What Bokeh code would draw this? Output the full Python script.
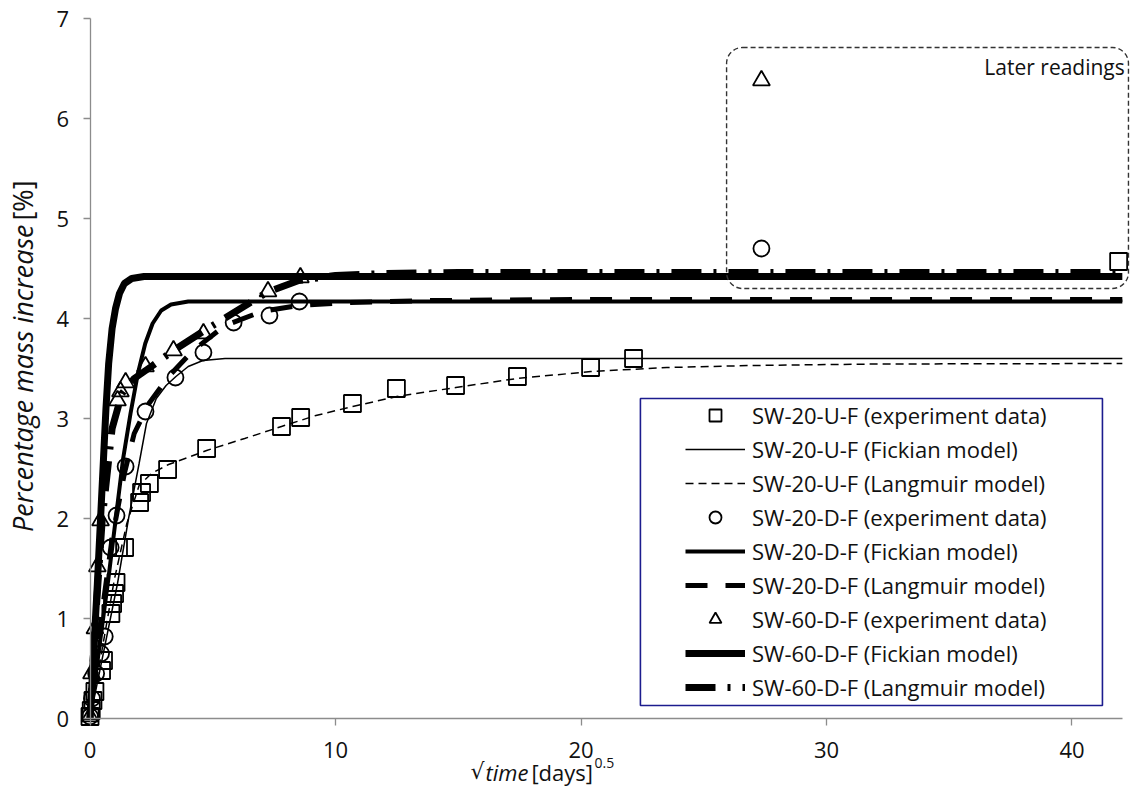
from math import pi
from bokeh.plotting import figure
from bokeh.models import Legend, LegendItem, Label, BoxAnnotation, Range1d, FixedTicker
from bokeh.embed import file_html
from bokeh.resources import INLINE

# ---------------- data ----------------
x_ticks = [0, 10, 20, 30, 40]
y_ticks = [0, 1, 2, 3, 4, 5, 6, 7]

# SW-20-U-F experiment data (squares)
u_exp_x = [0.0, 0.05, 0.12, 0.2, 0.47, 0.55, 0.85, 0.92, 1.0, 1.06, 1.16, 1.41, 2.02, 2.10, 2.42,
           3.16, 4.75, 7.80, 8.58, 10.69, 12.48, 14.89, 17.41, 20.39, 22.14, 41.9]
u_exp_y = [0.02, 0.08, 0.18, 0.27, 0.48, 0.58, 1.05, 1.15, 1.25, 1.36, 1.71, 1.71, 2.16, 2.26, 2.35,
           2.49, 2.70, 2.92, 3.01, 3.15, 3.30, 3.33, 3.42, 3.51, 3.60, 4.57]
# SW-20-U-F Fickian model
u_fick_x = [0, 0.5, 1.12, 1.57, 2.0, 2.3, 2.7, 3.1, 3.5, 4.0, 4.6, 5.5, 42.05]
u_fick_y = [0, 0.6, 1.35, 2.0, 2.55, 2.95, 3.2, 3.33, 3.42, 3.52, 3.58, 3.6, 3.6]
# SW-20-U-F Langmuir model
u_lang_x = [0, 0.5, 1.0, 1.5, 2.0, 2.5, 3.2, 4.75, 6.3, 7.8, 9.2, 10.7, 12.5, 14.9, 17.4, 20.4,
            23.5, 27, 32, 42.05]
u_lang_y = [0, 0.7, 1.4, 1.95, 2.33, 2.45, 2.54, 2.68, 2.8, 2.92, 3.03, 3.12, 3.22, 3.31, 3.4, 3.47,
            3.51, 3.53, 3.545, 3.55]

# SW-20-D-F experiment data (circles)
d20_exp_x = [0.0, 0.08, 0.25, 0.45, 0.6, 0.84, 1.08, 1.45, 2.26, 3.48, 4.62, 5.85, 7.31, 8.53, 27.35]
d20_exp_y = [0.02, 0.2, 0.45, 0.65, 0.82, 1.71, 2.03, 2.52, 3.07, 3.41, 3.66, 3.96, 4.03, 4.17, 4.70]
# SW-20-D-F Fickian model
d20_fick_x = [0, 0.4, 0.75, 1.05, 1.35, 1.65, 1.95, 2.25, 2.55, 2.9, 3.3, 4.0, 42.05]
d20_fick_y = [0, 0.75, 1.4, 2.0, 2.6, 3.05, 3.45, 3.75, 3.95, 4.08, 4.14, 4.17, 4.17]
# SW-20-D-F Langmuir model
d20_lang_x = [0, 0.4, 0.9, 1.4, 1.8, 2.4, 3.2, 4.2, 5.5, 7.0, 8.5, 10.5, 14, 20, 42.05]
d20_lang_y = [0, 0.9, 1.8, 2.45, 2.85, 3.15, 3.42, 3.68, 3.93, 4.07, 4.13, 4.16, 4.18, 4.19, 4.19]

# SW-60-D-F experiment data (triangles)
d60_exp_x = [0.0, 0.06, 0.2, 0.3, 0.43, 1.12, 1.24, 1.45, 2.26, 3.40, 4.62, 7.25, 8.57, 27.35]
d60_exp_y = [0.02, 0.45, 0.9, 1.52, 1.98, 3.18, 3.27, 3.36, 3.52, 3.68, 3.85, 4.27, 4.41, 6.38]
# SW-60-D-F Fickian model
d60_fick_x = [0, 0.1, 0.3, 0.43, 0.55, 0.65, 0.76, 0.9, 1.04, 1.2, 1.4, 1.7, 2.2, 42.05]
d60_fick_y = [0, 0.45, 1.35, 2.0, 2.6, 3.1, 3.55, 3.9, 4.1, 4.25, 4.35, 4.4, 4.42, 4.42]
# SW-60-D-F Langmuir model
d60_lang_x = [0, 0.2, 0.5, 0.9, 1.3, 1.8, 2.5, 3.4, 4.6, 5.8, 7.2, 8.5, 10, 12, 15, 42.05]
d60_lang_y = [0, 0.9, 2.0, 2.9, 3.25, 3.4, 3.52, 3.68, 3.87, 4.05, 4.26, 4.38, 4.43, 4.45, 4.46, 4.46]

labels = ["SW-20-U-F (experiment data)", "SW-20-U-F (Fickian model)", "SW-20-U-F (Langmuir model)",
          "SW-20-D-F (experiment data)", "SW-20-D-F (Fickian model)", "SW-20-D-F (Langmuir model)",
          "SW-60-D-F (experiment data)", "SW-60-D-F (Fickian model)", "SW-60-D-F (Langmuir model)"]

FONT = "Open Sans"
TXT = "#111111"

# ---------------- figure ----------------
# the frame fills the canvas; axes are pinned at x=0 / y=0 with fixed_location
p = figure(width=1130, height=788, output_backend="svg", toolbar_location=None,
           x_range=Range1d(-3.646, 42.383), y_range=Range1d(-0.70, 7.18),
           min_border_left=0, min_border_right=0, min_border_top=0, min_border_bottom=0)
p.outline_line_color = None
p.grid.visible = False

for ax in (p.xaxis[0], p.yaxis[0]):
    ax.fixed_location = 0
    ax.axis_line_color = "#8c8c8c"
    ax.axis_line_width = 1.3
    ax.major_tick_line_color = "#8c8c8c"
    ax.major_tick_line_width = 1.3
    ax.major_tick_out = 7
    ax.major_tick_in = 0
    ax.minor_tick_line_color = None
    ax.major_label_text_font = FONT
    ax.major_label_text_font_size = "22px"
    ax.major_label_text_color = TXT
p.xaxis.ticker = FixedTicker(ticks=x_ticks)
p.yaxis.ticker = FixedTicker(ticks=y_ticks)
p.xaxis.bounds = (0, 42.05)
p.yaxis.bounds = (0, 7)
p.xaxis.major_label_standoff = 16
p.yaxis.major_label_standoff = 14

# model lines
r_u_fick = p.line(u_fick_x, u_fick_y, line_color="black", line_width=1.5)
r_u_lang = p.line(u_lang_x, u_lang_y, line_color="black", line_width=1.5, line_dash="8 5")
r_d20_fick = p.line(d20_fick_x, d20_fick_y, line_color="black", line_width=4)
r_d20_lang = p.line(d20_lang_x, d20_lang_y, line_color="black", line_width=5, line_dash="22 18")
r_d60_fick = p.line(d60_fick_x, d60_fick_y, line_color="black", line_width=7)
r_d60_lang = p.line(d60_lang_x, d60_lang_y, line_color="black", line_width=7, line_dash="30 12 3 12")

# experiment markers
r_u_exp = p.scatter(u_exp_x, u_exp_y, marker="square", size=17, fill_alpha=0,
                    line_color="black", line_width=1.8)
r_d20_exp = p.scatter(d20_exp_x, d20_exp_y, marker="circle", size=16, fill_alpha=0,
                      line_color="black", line_width=1.8)
r_d60_exp = p.scatter(d60_exp_x, d60_exp_y, marker="triangle", size=17, fill_alpha=0,
                      line_color="black", line_width=1.8)

# "Later readings" dashed rounded box
p.add_layout(BoxAnnotation(left=25.93, right=42.3, bottom=4.30, top=6.71,
                           fill_alpha=0, line_color="#333333", line_alpha=1, line_width=1.4,
                           line_dash="5 3", border_radius=16))
p.add_layout(Label(x=42.15, y=6.52, text="Later readings", text_align="right",
                   text_baseline="middle", text_font=FONT, text_font_size="21px",
                   text_color=TXT))

# legend frame
p.add_layout(BoxAnnotation(left=22.42, right=41.24, bottom=0.13, top=3.20,
                           fill_color="white", fill_alpha=1,
                           line_color="#1c1c8e", line_alpha=1, line_width=1.6))

renderers = [r_u_exp, r_u_fick, r_u_lang, r_d20_exp, r_d20_fick, r_d20_lang,
             r_d60_exp, r_d60_fick, r_d60_lang]
legend = Legend(items=[LegendItem(label=l, renderers=[r]) for l, r in zip(labels, renderers)],
                location=(683, 84), glyph_width=60, glyph_height=30, label_height=30,
                spacing=4, padding=2, margin=0, label_standoff=7,
                label_text_font=FONT, label_text_font_size="22px", label_text_color=TXT,
                border_line_alpha=0, background_fill_alpha=0)
p.add_layout(legend)

# y axis title
p.add_layout(Label(x=-2.75, y=4.94, text="Percentage mass increase", angle=pi / 2,
                   text_align="right", text_baseline="middle", text_font=FONT,
                   text_font_style="italic", text_font_size="27px", text_color=TXT))
p.add_layout(Label(x=-2.75, y=4.98, text="[%]", angle=pi / 2,
                   text_align="left", text_baseline="middle", text_font=FONT,
                   text_font_size="27px", text_color=TXT))

# x axis title: √time [days]^0.5
p.add_layout(Label(x=16.07, y=-0.53, text="\u221a", text_align="right", text_baseline="middle",
                   text_font="DejaVu Sans", text_font_size="22px", text_color=TXT))
p.add_layout(Label(x=16.11, y=-0.53, text="time", text_align="left", text_baseline="middle",
                   text_font=FONT, text_font_style="italic", text_font_size="22px",
                   text_color=TXT))
p.add_layout(Label(x=17.98, y=-0.53, text="[days]", text_align="left", text_baseline="middle",
                   text_font=FONT, text_font_size="22px", text_color=TXT))
p.add_layout(Label(x=20.55, y=-0.44, text="0.5", text_align="left", text_baseline="middle",
                   text_font=FONT, text_font_size="14px", text_color=TXT))

open("out.html", "w").write(file_html(p, INLINE))
